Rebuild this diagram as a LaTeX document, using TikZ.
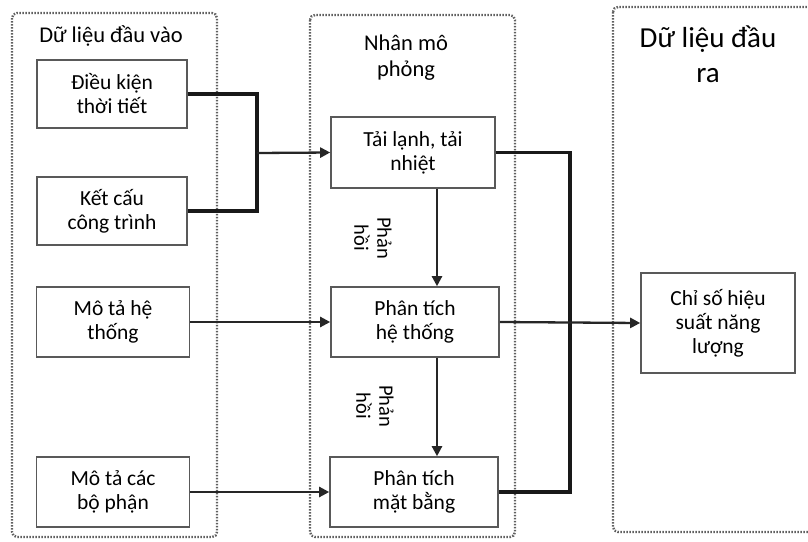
\documentclass[tikz,border=0pt]{standalone}
\usepackage{fontspec}
\setmainfont{Carlito}
\usetikzlibrary{arrows.meta}
\begin{document}
\begin{tikzpicture}[x=1pt,y=-1pt,
  group/.style={draw=gray!75!black, line width=2.4pt, dash pattern=on 1.5pt off 1.5pt, rounded corners=5pt},
  box/.style={draw=gray!70!black, line width=1.6pt, fill=white, align=center, inner sep=2pt,
     font=\fontsize{21.5}{24}\selectfont},
  hdr/.style={align=center, font=\fontsize{22.5}{26}\selectfont, inner sep=0pt},
  thk/.style={draw=black!90, line width=3.4pt},
  thn/.style={draw=black!85, line width=2.3pt},
  arr/.style={-{Triangle[length=10pt,width=10pt]}},
  fb/.style={rotate=-90, align=center, font=\fontsize{20.5}{23}\selectfont, inner sep=0pt}]
\useasboundingbox (0,0) rectangle (808,541);
\fill[white] (0,0) rectangle (808,541);
\clip (0,0) rectangle (808,541);
% groups
\draw[group] (12,13) rectangle (217,537);
\draw[group] (310,15) rectangle (515,537);
\draw[group] (613,7) rectangle (830,532);
% headers
\node[hdr] (h1) at (111,36) {Dữ liệu đầu vào};
\node[hdr] (h2) at (406,58) {Nhân mô\\phỏng};
\node[hdr, font=\fontsize{29}{35}\selectfont] (h3) at (708,54) {Dữ liệu đầu\\ra};
% boxes
\node[box, minimum width=150pt, minimum height=68pt] (dk) at (112,94) {Điều kiện\\thời tiết};
\node[box, minimum width=150pt, minimum height=68pt] (kc) at (112,211) {Kết cấu\\công trình};
\node[box, minimum width=153pt, minimum height=70pt] (mt) at (113,322) {Mô tả hệ\\thống};
\node[box, minimum width=153pt, minimum height=70pt] (mc) at (113,492) {Mô tả các\\bộ phận};
\node[box, minimum width=164pt, minimum height=71pt] (tl) at (413,152.5) {Tải lạnh, tải\\nhiệt};
\node[box, minimum width=168pt, minimum height=70pt] (ph) at (415,322) {Phân tích\\hệ thống};
\node[box, minimum width=168pt, minimum height=70pt] (mb) at (414,492) {Phân tích\\mặt bằng};
\node[box, minimum width=154pt, minimum height=100pt] (cs) at (718,323) {Chỉ số hiệu\\suất năng\\lượng};
% junctions
\coordinate (j1) at (257,153);
\coordinate (j2) at (570,322);
% connectors
\draw[thk, line join=miter] (dk.east) -| (j1) |- (kc.east);
\draw[thn, arr] (j1) -- (tl.west);
\draw[thn, arr] (mt.east) -- (ph.west);
\draw[thn, arr] (mc.east) -- (mb.west);
\draw[thk, line join=miter] (tl.east) -| (j2) |- (mb.east);
\draw[thn, arr] (ph.east) -- (cs.west);
\draw[thn, arr] ([xshift=24pt]tl.south) -- ([xshift=24pt]tl.south |- ph.north);
\draw[thn, arr] ([xshift=22pt]ph.south) -- ([xshift=22pt]ph.south |- mb.north);
% feedback labels
\node[fb] (fb1) at (373,238) {Phản\\hồi};
\node[fb] (fb2) at (375,406) {Phản\\hồi};
\end{tikzpicture}
\end{document}
